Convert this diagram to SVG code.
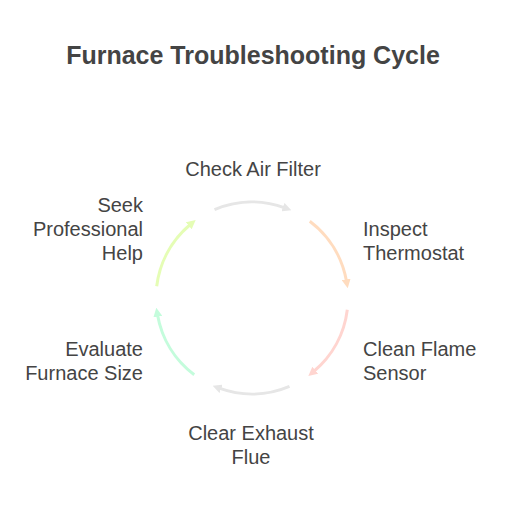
<svg xmlns="http://www.w3.org/2000/svg" width="506" height="518" viewBox="0 0 506 518">
<style>
text{font-family:"Liberation Sans",Arial,sans-serif;fill:#444444}
.t{font-size:25px;font-weight:bold}
.l{font-size:20px}
.a{fill:none;stroke-width:3}
</style>
<defs>
<marker id="m1" markerUnits="userSpaceOnUse" markerWidth="9" markerHeight="9" refX="2" refY="4.5" orient="auto"><path d="M0,0 L9,4.5 L0,9 z" fill="#e6e6e6"/></marker>
<marker id="m2" markerUnits="userSpaceOnUse" markerWidth="9" markerHeight="9" refX="2" refY="4.5" orient="auto"><path d="M0,0 L9,4.5 L0,9 z" fill="#ffdcbf"/></marker>
<marker id="m3" markerUnits="userSpaceOnUse" markerWidth="9" markerHeight="9" refX="2" refY="4.5" orient="auto"><path d="M0,0 L9,4.5 L0,9 z" fill="#ffd5d0"/></marker>
<marker id="m5" markerUnits="userSpaceOnUse" markerWidth="9" markerHeight="9" refX="2" refY="4.5" orient="auto"><path d="M0,0 L9,4.5 L0,9 z" fill="#c4fcdc"/></marker>
<marker id="m6" markerUnits="userSpaceOnUse" markerWidth="9" markerHeight="9" refX="2" refY="4.5" orient="auto"><path d="M0,0 L9,4.5 L0,9 z" fill="#e5fdb5"/></marker>
</defs>
<rect width="506" height="518" fill="#ffffff"/>
<text class="t" x="253" y="64" text-anchor="middle">Furnace Troubleshooting Cycle</text>
<g id="connectors">
<path class="a" stroke="#e6e6e6" marker-end="url(#m1)" d="M214.5,209.6 A96,96 0 0 1 284.8,207.8"/>
<path class="a" stroke="#ffdcbf" marker-end="url(#m2)" d="M309.8,221.3 A96,96 0 0 1 346.5,281.3"/>
<path class="a" stroke="#ffd5d0" marker-end="url(#m3)" d="M347.3,309.7 A96,96 0 0 1 313.7,371.5"/>
<path class="a" stroke="#e6e6e6" marker-end="url(#m1)" d="M289.5,386.4 A96,96 0 0 1 219.2,388.2"/>
<path class="a" stroke="#c4fcdc" marker-end="url(#m5)" d="M194.2,374.7 A96,96 0 0 1 157.5,314.7"/>
<path class="a" stroke="#e5fdb5" marker-end="url(#m6)" d="M156.7,286.3 A96,96 0 0 1 190.3,224.5"/>
</g>
<g id="n1"><text class="l" x="253" y="176" text-anchor="middle">Check Air Filter</text></g>
<g id="n2"><text class="l" x="363" y="236">Inspect</text><text class="l" x="363" y="260">Thermostat</text></g>
<g id="n3"><text class="l" x="363" y="356">Clean Flame</text><text class="l" x="363" y="380">Sensor</text></g>
<g id="n4"><text class="l" x="251" y="440" text-anchor="middle">Clear Exhaust</text><text class="l" x="251" y="464" text-anchor="middle">Flue</text></g>
<g id="n5"><text class="l" x="143" y="356" text-anchor="end">Evaluate</text><text class="l" x="143" y="380" text-anchor="end">Furnace Size</text></g>
<g id="n6"><text class="l" x="143" y="212" text-anchor="end">Seek</text><text class="l" x="143" y="236" text-anchor="end">Professional</text><text class="l" x="143" y="260" text-anchor="end">Help</text></g>
</svg>
